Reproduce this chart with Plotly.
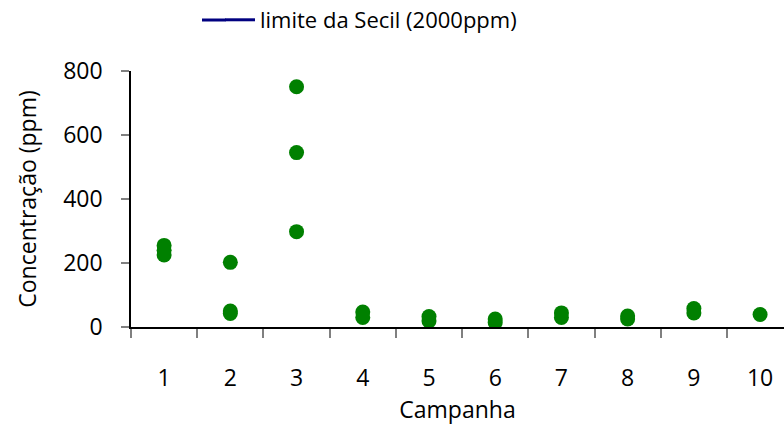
import plotly.graph_objects as go

campanhas = [1, 1, 1, 2, 2, 2, 3, 3, 3, 4, 4, 5, 5, 6, 6, 7, 7, 8, 8, 9, 9, 10]
concentracao = [255, 240, 225, 202, 50, 42, 751, 545, 298, 47, 30, 33, 19, 25, 14,
                44, 30, 34, 25, 58, 44, 39]
categorias = [1, 2, 3, 4, 5, 6, 7, 8, 9, 10]
limite_x = [0.5, 10.5]
limite_y = [2000, 2000]
y_ticks = [0, 200, 400, 600, 800]

FONT = "Open Sans"
LEGEND_COLOR = "#000080"

fig = go.Figure()
fig.add_trace(go.Scatter(
    x=limite_x, y=limite_y, mode="lines", name="limite da Secil (2000ppm)",
    line=dict(color=LEGEND_COLOR, width=3), showlegend=True))
fig.add_trace(go.Scatter(
    x=campanhas, y=concentracao, mode="markers", showlegend=False,
    marker=dict(color="#008000", size=15)))

# extend legend swatch to the left so it matches the longer original sample line
fig.add_shape(type="line", xref="paper", yref="paper",
              x0=0.1087, x1=0.145, y0=1.1992, y1=1.1992,
              line=dict(color=LEGEND_COLOR, width=3))

fig.update_layout(
    width=784, height=429,
    margin=dict(l=131, r=0, t=71, b=102),
    paper_bgcolor="white", plot_bgcolor="white",
    font=dict(family=FONT, size=23, color="#000000"),
    showlegend=True,
    legend=dict(orientation="h", xref="container", yref="container",
                x=0.2806, xanchor="left", y=0.9534, yanchor="middle",
                font=dict(size=22), bgcolor="rgba(0,0,0,0)"),
    xaxis=dict(
        range=[0.5, 10.361], showgrid=False, zeroline=False,
        showline=True, linecolor="#000000", linewidth=1.5,
        tickmode="array", tickvals=categorias, ticktext=[str(c) for c in categorias],
        ticks="", ticklabelstandoff=30,
        minor=dict(tickmode="array", tickvals=[c - 0.5 for c in categorias],
                   ticks="outside", ticklen=9, tickcolor="#808080", tickwidth=1.5,
                   showgrid=False),
        title=dict(text="Campanha", standoff=4, font=dict(size=23)),
    ),
    yaxis=dict(
        range=[0, 800], showgrid=False, zeroline=False,
        showline=True, linecolor="#000000", linewidth=1.5,
        tickmode="array", tickvals=y_ticks,
        ticks="outside", ticklen=8, tickcolor="#808080", tickwidth=1.5,
        ticklabelstandoff=14,
        title=dict(text="Concentração (ppm)", standoff=20, font=dict(size=23)),
    ),
)

fig.write_html("out.html")
